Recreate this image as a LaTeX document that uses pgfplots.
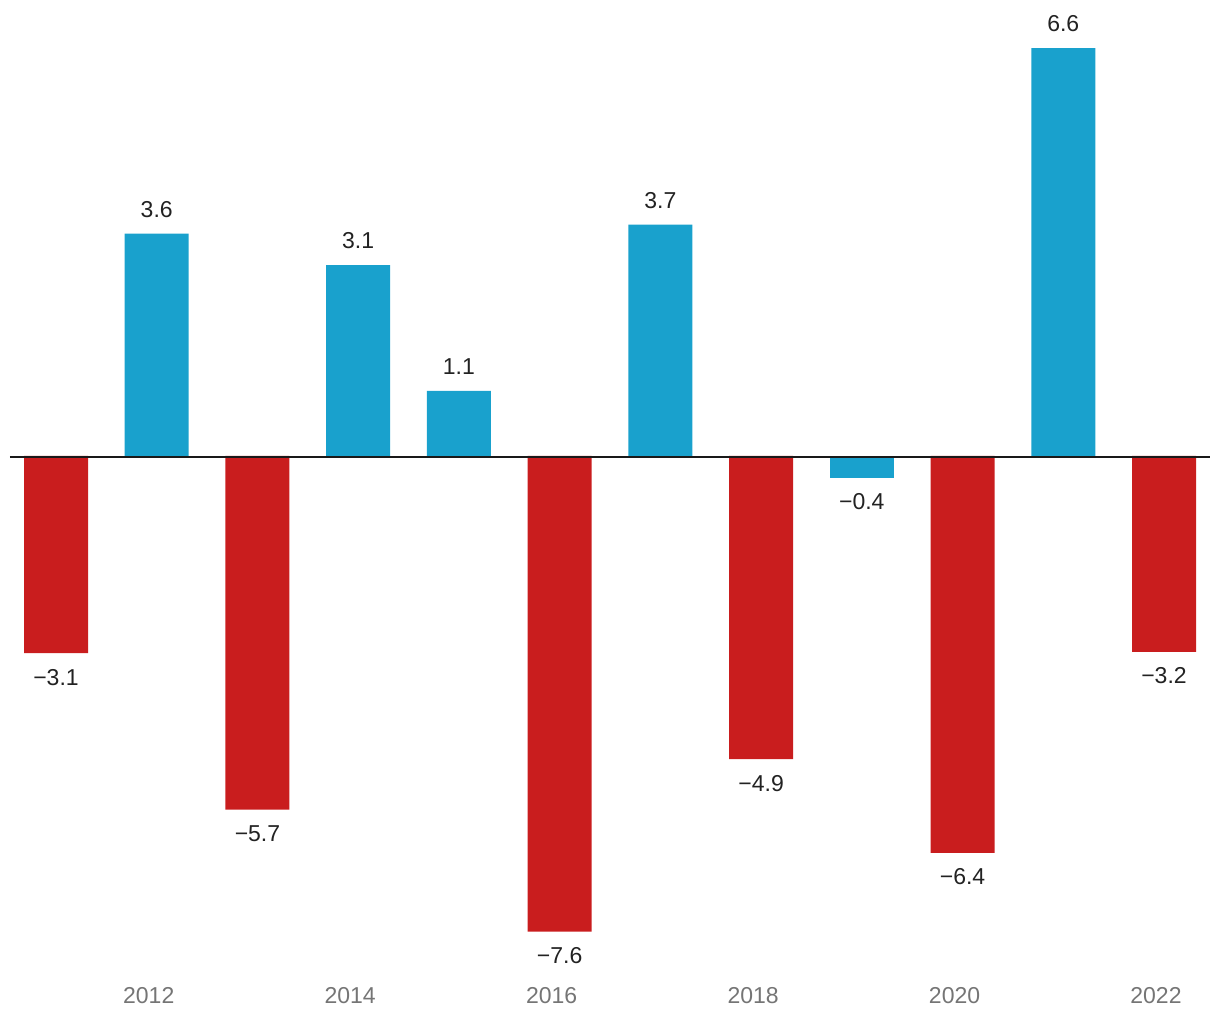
\documentclass[border=0pt]{standalone}
\usepackage{fontspec}
\setmainfont{Liberation Sans}
\usepackage{pgfplots}
\pgfplotsset{compat=1.18}
\definecolor{barblue}{HTML}{19A1CD}
\definecolor{barred}{HTML}{C91D1E}
\definecolor{ticktext}{HTML}{757575}
\definecolor{labeltext}{HTML}{222222}
\begin{document}
\begin{tikzpicture}[x=1pt,y=1pt]
\useasboundingbox (0,0) rectangle (1220,1020);
\begin{axis}[
  at={(10pt,55.6pt)}, anchor=south west,
  scale only axis, width=1200pt, height=954.8pt,
  xmin=2010.5433, xmax=2022.4567, ymin=-8.2, ymax=7.2,
  axis line style={draw=none}, major tick style={draw=none},
  ytick=\empty,
  xtick={2012,2014,2016,2018,2020,2022},
  xticklabels={2012,2014,2016,2018,2020,2022},
  xticklabel style={font=\fontsize{23}{27}\selectfont, text=ticktext, yshift=-15pt, xshift=-8pt},
  ybar, bar width=64pt,
  point meta=explicit symbolic,
  nodes near coords,
  clip=false,
]
\addplot[fill=barblue, draw=none, bar shift=0pt,
  every node near coord/.append style={anchor=center, inner sep=0pt, yshift=24pt, font=\fontsize{23}{27}\selectfont, text=labeltext}]
  table[meta=label] {
x y label
2012 3.585 3.6
2014 3.08 3.1
2015 1.05 1.1
2017 3.73 3.7
2021 6.58 6.6
};
\addplot[fill=barblue, draw=none, bar shift=0pt,
  every node near coord/.append style={anchor=center, inner sep=0pt, yshift=-24pt, font=\fontsize{23}{27}\selectfont, text=labeltext}]
  table[meta=label] {
x y label
2019 -0.355 −0.4
};
\addplot[fill=barred, draw=none, bar shift=0pt,
  every node near coord/.append style={anchor=center, inner sep=0pt, yshift=-24pt, font=\fontsize{23}{27}\selectfont, text=labeltext}]
  table[meta=label] {
x y label
2011 -3.18 −3.1
2013 -5.705 −5.7
2016 -7.67 −7.6
2018 -4.89 −4.9
2020 -6.40 −6.4
2022 -3.16 −3.2
};
\draw[black!90, line width=2pt, yshift=-1pt] ({rel axis cs:0,0} |- {axis cs:2011,0}) -- ({rel axis cs:1,0} |- {axis cs:2011,0});
\end{axis}
\end{tikzpicture}
\end{document}
